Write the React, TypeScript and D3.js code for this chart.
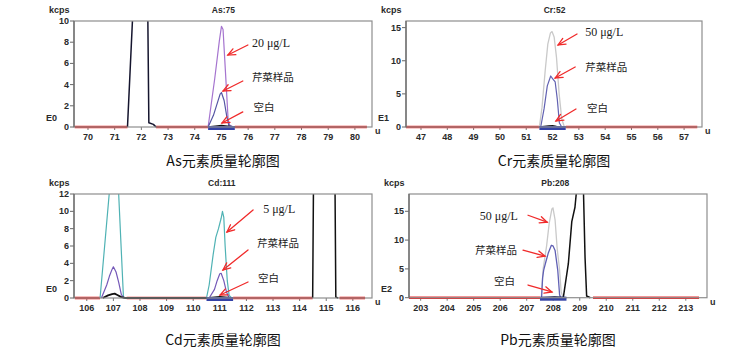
import React from 'react';
import * as d3 from 'd3';

type Pt = [number, number];
type Span = [number, number];

// ---------------- As (m/z 75) ----------------
const asMassTicks = [70, 71, 72, 73, 74, 75, 76, 77, 78, 79, 80];
const asCountTicks = [0, 2, 4, 6, 8, 10];
const asStandard: Pt[] = [[74.5, 0], [74.75, 4.6], [74.92, 8.1], [75.0, 9.5], [75.06, 9.2], [75.15, 5.2], [75.25, 0.7], [75.32, 0.1], [75.5, 0]];
const asSample: Pt[] = [[74.5, 0], [74.7, 1.1], [74.85, 2.3], [74.95, 3.1], [75.0, 3.25], [75.1, 2.5], [75.2, 1.0], [75.28, 0.1], [75.5, 0]];
const asBlank: Pt[] = [[74.5, 0], [74.85, 0.1], [75.0, 0.15], [75.15, 0.1], [75.5, 0]];
const asInterference: Pt[] = [[71.48, 0], [71.68, 10.8], [72.24, 10.8], [72.28, 0.4], [72.45, 0.25], [72.55, 0]];
const asBaseline: Span[] = [[69.5, 71.48], [72.55, 74.5], [75.5, 80.45]];
const asWindow: Span = [74.5, 75.5];
const asNoteLabels = ['20 μg/L', '芹菜样品', '空白'];

// ---------------- Cr (m/z 52) ----------------
const crMassTicks = [47, 48, 49, 50, 51, 52, 53, 54, 55, 56, 57];
const crCountTicks = [0, 5, 10, 15];
const crStandard: Pt[] = [[51.5, 0], [51.6, 3], [51.72, 8.5], [51.82, 12.5], [51.92, 14.2], [51.98, 14.4], [52.06, 13.6], [52.15, 10.5], [52.25, 5], [52.35, 1.2], [52.45, 0]];
const crSample: Pt[] = [[51.55, 0], [51.68, 2.8], [51.8, 6.2], [51.93, 7.7], [52.0, 7.3], [52.1, 6.8], [52.18, 4.2], [52.26, 0.6], [52.35, 0]];
const crBlank: Pt[] = [[51.5, 0], [51.85, 0.15], [52.0, 0.2], [52.15, 0.1], [52.5, 0]];
const crBaseline: Span[] = [[46.43, 51.5], [52.5, 57.5]];
const crWindow: Span = [51.5, 52.5];
const crNoteLabels = ['50 μg/L', '芹菜样品', '空白'];

// ---------------- Cd (m/z 111) ----------------
const cdMassTicks = [106, 107, 108, 109, 110, 111, 112, 113, 114, 115, 116];
const cdCountTicks = [0, 2, 4, 6, 8, 10, 12];
const cdStandard: Pt[] = [[106.5, 0], [106.86, 12.6], [107.19, 12.6], [107.38, 0], [107.5, 0], [110.5, 0], [110.6, 1.5], [110.75, 5], [110.85, 7], [110.95, 8], [111.05, 9.2], [111.1, 10], [111.15, 9.3], [111.2, 6], [111.28, 2], [111.35, 0.3], [111.45, 0]];
const cdSample: Pt[] = [[106.55, 0], [106.75, 1.5], [106.85, 2.5], [106.95, 3.3], [107.0, 3.6], [107.1, 3.0], [107.2, 1.8], [107.3, 0.4], [107.4, 0], [110.6, 0], [110.8, 1], [110.9, 2], [111.0, 2.8], [111.05, 2.85], [111.15, 2], [111.25, 0.7], [111.35, 0]];
const cdBlank: Pt[] = [[106.6, 0], [106.8, 0.3], [106.95, 0.45], [107.05, 0.5], [107.15, 0.35], [107.3, 0.1], [107.45, 0], [110.6, 0], [111.0, 0.12], [111.4, 0]];
const cdInterference: Pt[] = [[114.49, 0], [114.52, 12.8], [115.33, 12.8], [115.36, 0.1], [115.45, 0]];
const cdBaseline: Span[] = [[105.55, 106.5], [107.5, 110.5], [111.5, 114.49], [115.5, 116.46]];
const cdWindow: Span = [110.5, 111.5];
const cdNoteLabels = ['5 μg/L', '芹菜样品', '空白'];

// ---------------- Pb (m/z 208) ----------------
const pbMassTicks = [203, 204, 205, 206, 207, 208, 209, 210, 211, 212, 213];
const pbCountTicks = [0, 5, 10, 15];
const pbStandard: Pt[] = [[207.55, 0], [207.62, 5], [207.75, 9], [207.85, 13], [207.95, 15.4], [207.99, 15.6], [208.07, 13.5], [208.15, 8.5], [208.24, 4.8], [208.3, 1], [208.38, 0]];
const pbSample: Pt[] = [[207.56, 0], [207.6, 3.5], [207.64, 4.8], [207.72, 6.2], [207.81, 7.7], [207.93, 9.1], [207.99, 9.0], [208.07, 8.2], [208.17, 4.8], [208.24, 0.5], [208.28, 0]];
const pbBlank: Pt[] = [[207.5, 0], [207.9, 0.1], [208.05, 0.12], [208.5, 0]];
const pbInterference: Pt[] = [[208.38, 0], [208.57, 5.9], [208.7, 13.2], [208.82, 15.7], [208.88, 18.6], [209.14, 18.6], [209.2, 7], [209.26, 0.3], [209.4, 0]];
const pbBaseline: Span[] = [[202.56, 207.5], [209.5, 213.5]];
const pbWindow: Span = [207.5, 208.5];
const pbNoteLabels = ['50 μg/L', '芹菜样品', '空白'];

// ---------------- layout (positions / styles) ----------------
interface Note { at: Pt; from: Pt; to: Pt; anchor: 'start' | 'end' }
interface Line { values: Pt[]; color: string; width: number }
interface PanelCfg {
  name: string; exp: string; title: string; titleY: number;
  left: number; right: number; top: number; bottom: number;
  xDomain: Span; yDomain: Span;
  xTicks: number[]; yTicks: number[];
  lines: Line[]; baseline: Span[]; window: Span;
  labels: string[]; notes: Note[];
}

const RED = '#e8282a';
const BLUE = '#3442a6';

const panels: PanelCfg[] = [
  {
    name: 'As:75', exp: 'E0', title: 'As元素质量轮廓图', titleY: 160,
    left: 74, right: 372, top: 21, bottom: 127,
    xDomain: [69.476, 80.64], yDomain: [0, 10], xTicks: asMassTicks, yTicks: asCountTicks,
    lines: [
      { values: asInterference, color: '#15152e', width: 1.5 },
      { values: asStandard, color: '#a574cf', width: 1.2 },
      { values: asSample, color: '#5656a4', width: 1.2 },
      { values: asBlank, color: '#111', width: 1.4 },
    ],
    baseline: asBaseline, window: asWindow, labels: asNoteLabels,
    notes: [
      { at: [76.14, 7.92], from: [75.99, 7.74], to: [75.24, 6.79], anchor: 'start' },
      { at: [76.14, 4.81], from: [75.8, 4.34], to: [75.06, 3.4], anchor: 'start' },
      { at: [76.2, 1.89], from: [75.8, 1.42], to: [75.02, 0.38], anchor: 'start' },
    ],
  },
  {
    name: 'Cr:52', exp: 'E1', title: 'Cr元素质量轮廓图', titleY: 160,
    left: 406, right: 702, top: 21, bottom: 127,
    xDomain: [46.43, 57.68], yDomain: [0, 16], xTicks: crMassTicks, yTicks: crCountTicks,
    lines: [
      { values: crStandard, color: '#c9c9c9', width: 1.3 },
      { values: crSample, color: '#6262b2', width: 1.2 },
      { values: crBlank, color: '#111', width: 1.3 },
    ],
    baseline: crBaseline, window: crWindow, labels: crNoteLabels,
    notes: [
      { at: [53.24, 14.34], from: [52.93, 14.04], to: [52.21, 12.38], anchor: 'start' },
      { at: [53.24, 9.06], from: [52.86, 9.06], to: [52.1, 7.4], anchor: 'start' },
      { at: [53.31, 2.87], from: [52.89, 2.72], to: [52.13, 0.9], anchor: 'start' },
    ],
  },
  {
    name: 'Cd:111', exp: 'E0', title: 'Cd元素质量轮廓图', titleY: 339,
    left: 74, right: 372, top: 194, bottom: 298,
    xDomain: [105.52, 116.72], yDomain: [0, 12], xTicks: cdMassTicks, yTicks: cdCountTicks,
    lines: [
      { values: cdInterference, color: '#111', width: 1.5 },
      { values: cdStandard, color: '#4fb2b4', width: 1.2 },
      { values: cdSample, color: '#7458b8', width: 1.2 },
      { values: cdBlank, color: '#111', width: 1.8 },
    ],
    baseline: cdBaseline, window: cdWindow, labels: cdNoteLabels,
    notes: [
      { at: [112.63, 10.27], from: [112.25, 10.15], to: [111.27, 7.62], anchor: 'start' },
      { at: [112.4, 6.35], from: [112.06, 5.54], to: [111.12, 3.23], anchor: 'start' },
      { at: [112.44, 2.31], from: [112.06, 1.85], to: [111.01, 0.35], anchor: 'start' },
    ],
  },
  {
    name: 'Pb:208', exp: 'E2', title: 'Pb元素质量轮廓图', titleY: 339,
    left: 409, right: 707, top: 194, bottom: 297.7,
    xDomain: [202.56, 213.8], yDomain: [0, 18], xTicks: pbMassTicks, yTicks: pbCountTicks,
    lines: [
      { values: pbStandard, color: '#c9c9c9', width: 1.3 },
      { values: pbSample, color: '#6060b4', width: 1.3 },
      { values: pbInterference, color: '#111', width: 1.5 },
      { values: pbBlank, color: '#111', width: 1.3 },
    ],
    baseline: pbBaseline, window: pbWindow, labels: pbNoteLabels,
    notes: [
      { at: [206.67, 14.19], from: [207.05, 14.31], to: [207.77, 13.1], anchor: 'end' },
      { at: [206.63, 8.43], from: [206.86, 8.25], to: [207.69, 7.21], anchor: 'end' },
      { at: [206.56, 3.06], from: [207.05, 2.2], to: [207.95, 0.99], anchor: 'end' },
    ],
  },
];

const SMALL = { fontFamily: '"Liberation Sans", Arial, sans-serif', fontSize: 9, fontWeight: 700, fill: '#2a2a2a' } as const;

function Arrow({ x1, y1, x2, y2 }: { x1: number; y1: number; x2: number; y2: number }) {
  const ang = Math.atan2(y2 - y1, x2 - x1);
  const L = 8, a = 0.42;
  const p1 = [x2 - L * Math.cos(ang - a), y2 - L * Math.sin(ang - a)];
  const p2 = [x2 - L * Math.cos(ang + a), y2 - L * Math.sin(ang + a)];
  return (
    <g stroke="#f02a2a" strokeWidth={1.3} fill="none" strokeLinecap="round">
      <line x1={x1} y1={y1} x2={x2} y2={y2} />
      <polyline points={`${p1[0]},${p1[1]} ${x2},${y2} ${p2[0]},${p2[1]}`} />
    </g>
  );
}

function Panel({ cfg, idx }: { cfg: PanelCfg; idx: number }) {
  const x = d3.scaleLinear().domain(cfg.xDomain).range([cfg.left, cfg.right]);
  const y = d3.scaleLinear().domain(cfg.yDomain).range([cfg.bottom, cfg.top]);
  const line = d3.line<Pt>().x(d => x(d[0])).y(d => y(d[1]));
  const clipId = `clip-${idx}`;
  const y0 = y(0);
  const center = (cfg.window[0] + cfg.window[1]) / 2;
  return (
    <g>
      <defs>
        <clipPath id={clipId}>
          <rect x={cfg.left} y={cfg.top} width={cfg.right - cfg.left} height={cfg.bottom - cfg.top + 4} />
        </clipPath>
      </defs>
      <rect x={cfg.left} y={cfg.top} width={cfg.right - cfg.left} height={cfg.bottom - cfg.top} fill="#fff" stroke="none" />
      {/* x ticks */}
      {cfg.xTicks.map(t => (
        <g key={`x${t}`}>
          <line x1={x(t)} x2={x(t)} y1={cfg.bottom} y2={cfg.bottom + 3} stroke="#777" strokeWidth={1} />
          <text x={x(t)} y={cfg.bottom + 10} textAnchor="middle" dominantBaseline="central" {...SMALL}>{t}</text>
        </g>
      ))}
      {/* y ticks */}
      {cfg.yTicks.map(t => (
        <g key={`y${t}`}>
          <line x1={cfg.left - 4} x2={cfg.left} y1={y(t)} y2={y(t)} stroke="#666" strokeWidth={1} />
          <text x={cfg.left - 5} y={y(t)} textAnchor="end" dominantBaseline="central" {...SMALL}>{t}</text>
        </g>
      ))}
      {/* baseline */}
      {cfg.baseline.map((s, i) => (
        <line key={`b${i}`} x1={x(s[0])} x2={x(s[1])} y1={y0} y2={y0} stroke={RED} strokeWidth={2.6} />
      ))}
      <g clipPath={`url(#${clipId})`}>
        {cfg.lines.map((l, i) => (
          <path key={`l${i}`} d={line(l.values) || ''} fill="none" stroke={l.color} strokeWidth={l.width} strokeLinejoin="round" />
        ))}
      </g>
      {/* integration window */}
      <rect x={x(cfg.window[0])} y={y0 - 1} width={x(cfg.window[1]) - x(cfg.window[0])} height={4} fill={BLUE} />
      {/* frame */}
      <rect x={cfg.left} y={cfg.top} width={cfg.right - cfg.left} height={cfg.bottom - cfg.top} fill="none" stroke="#8e8e8e" strokeWidth={1.2} />
      <line x1={cfg.left} x2={cfg.left} y1={cfg.top} y2={cfg.bottom} stroke="#666" strokeWidth={1.2} />
      {/* labels */}
      <text x={cfg.left - 25} y={cfg.top - 11} dominantBaseline="central" {...SMALL}>kcps</text>
      <text x={cfg.left - 28} y={cfg.bottom - 9} dominantBaseline="central" {...SMALL}>{cfg.exp}</text>
      <text x={x(center) + 2} y={cfg.top - 11} textAnchor="middle" dominantBaseline="central" {...SMALL} fontSize={8.5}>{cfg.name}</text>
      <text x={cfg.right + 3} y={cfg.bottom + 4} dominantBaseline="central" {...SMALL}>u</text>
      {/* annotations */}
      {cfg.notes.map((n, i) => {
        const isLatin = /[0-9]/.test(cfg.labels[i]);
        return (
          <g key={`n${i}`}>
            <text x={x(n.at[0])} y={y(n.at[1])} textAnchor={n.anchor} dominantBaseline="central"
              fontFamily={isLatin ? '"Liberation Serif", "Times New Roman", serif' : '"Noto Sans CJK SC", sans-serif'}
              fontSize={isLatin ? 12 : 10.5} fill="#222">{cfg.labels[i]}</text>
            <Arrow x1={x(n.from[0])} y1={y(n.from[1])} x2={x(n.to[0])} y2={y(n.to[1])} />
          </g>
        );
      })}
      {/* title */}
      <text x={(cfg.left + cfg.right) / 2} y={cfg.titleY} textAnchor="middle" dominantBaseline="central"
        fontFamily='"Noto Sans CJK SC", "Noto Sans", sans-serif' fontSize={14} fill="#111">{cfg.title}</text>
    </g>
  );
}

export default function App() {
  return (
    <svg width={756} height={356} viewBox="0 0 756 356"
      style={{ position: 'absolute', left: 0, top: 0, background: '#fff', display: 'block' }}>
      <rect x={0} y={0} width={756} height={356} fill="#fff" />
      {panels.map((p, i) => <Panel key={p.name} cfg={p} idx={i} />)}
    </svg>
  );
}
